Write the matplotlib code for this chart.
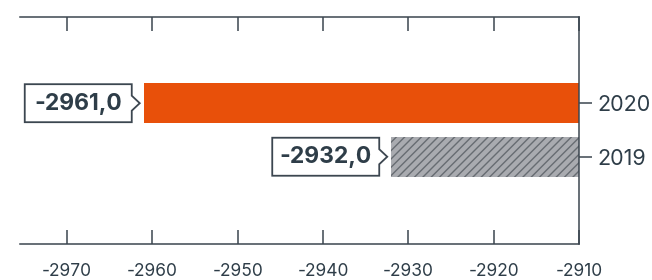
import matplotlib
matplotlib.use("Agg")
import matplotlib.pyplot as plt
from matplotlib.patches import Polygon
from matplotlib.transforms import Affine2D, ScaledTranslation

years = ["2019", "2020"]
values = [-2932.0, -2961.0]
value_labels = ["-2932,0", "-2961,0"]
xticks = [-2970, -2960, -2950, -2940, -2930, -2920, -2910]
xtick_labels = ["-2970", "-2960", "-2950", "-2940", "-2930", "-2920", "-2910"]

TXT = "#2e3d48"
AX = "#3c4650"
ORANGE = "#e8500a"

plt.rcParams["font.family"] = ["Inter", "DejaVu Sans"]
plt.rcParams["hatch.linewidth"] = 1.0

fig = plt.figure(figsize=(6.52, 2.8), dpi=100)
ax = fig.add_axes([20/652, 36/280, (579-20)/652, (244-17)/280])

base = -2910
ypos = list(range(len(years)))
widths = [v - base for v in values]
bars = ax.barh(ypos, widths, left=base, height=0.74, color=["#a9abb0", ORANGE], edgecolor="none")
bars[0].set_hatch("////")
bars[0].set_edgecolor("#676c72")
bars[0].set_linewidth(0)

ax.set_xlim(-2975.5, -2910)
ax.set_ylim(-1.63, 2.61)

ax.spines["left"].set_visible(False)
for s in ["top", "bottom", "right"]:
    ax.spines[s].set_color(AX)
    ax.spines[s].set_linewidth(1.1)

ax.set_xticks(xticks)
ax.set_xticklabels(xtick_labels)
ax.tick_params(axis="x", which="both", direction="in", length=10, width=1.1, color=AX,
               top=True, bottom=True, labeltop=False, labelbottom=True,
               labelsize=12.5, labelcolor=TXT, pad=14)
ax.yaxis.tick_right()
ax.set_yticks(ypos)
ax.set_yticklabels(years)
ax.tick_params(axis="y", direction="out", length=9, width=1.1, color=AX,
               labelsize=15.5, labelcolor=TXT, pad=4)

px = 72 / fig.dpi  # points per pixel
for y, v, lab in zip(ypos, values, value_labels):
    h = 19
    verts = [(-119, -h), (-119, h), (-12, h), (-12, 7.5), (-4, 0), (-12, -7.5), (-12, -h)]
    tr = Affine2D() + ScaledTranslation(v, y, ax.transData)
    poly = Polygon(verts, closed=True, facecolor="white", edgecolor=AX, linewidth=1.3,
                   transform=tr, zorder=5)
    ax.add_patch(poly)
    ax.annotate(lab, xy=(v, y), xytext=(-65.5 * px, -0.5 * px), textcoords="offset points",
                ha="center", va="center", fontsize=16.5, fontweight="bold", color=TXT, zorder=6)

fig.savefig("out.png", dpi=100)
